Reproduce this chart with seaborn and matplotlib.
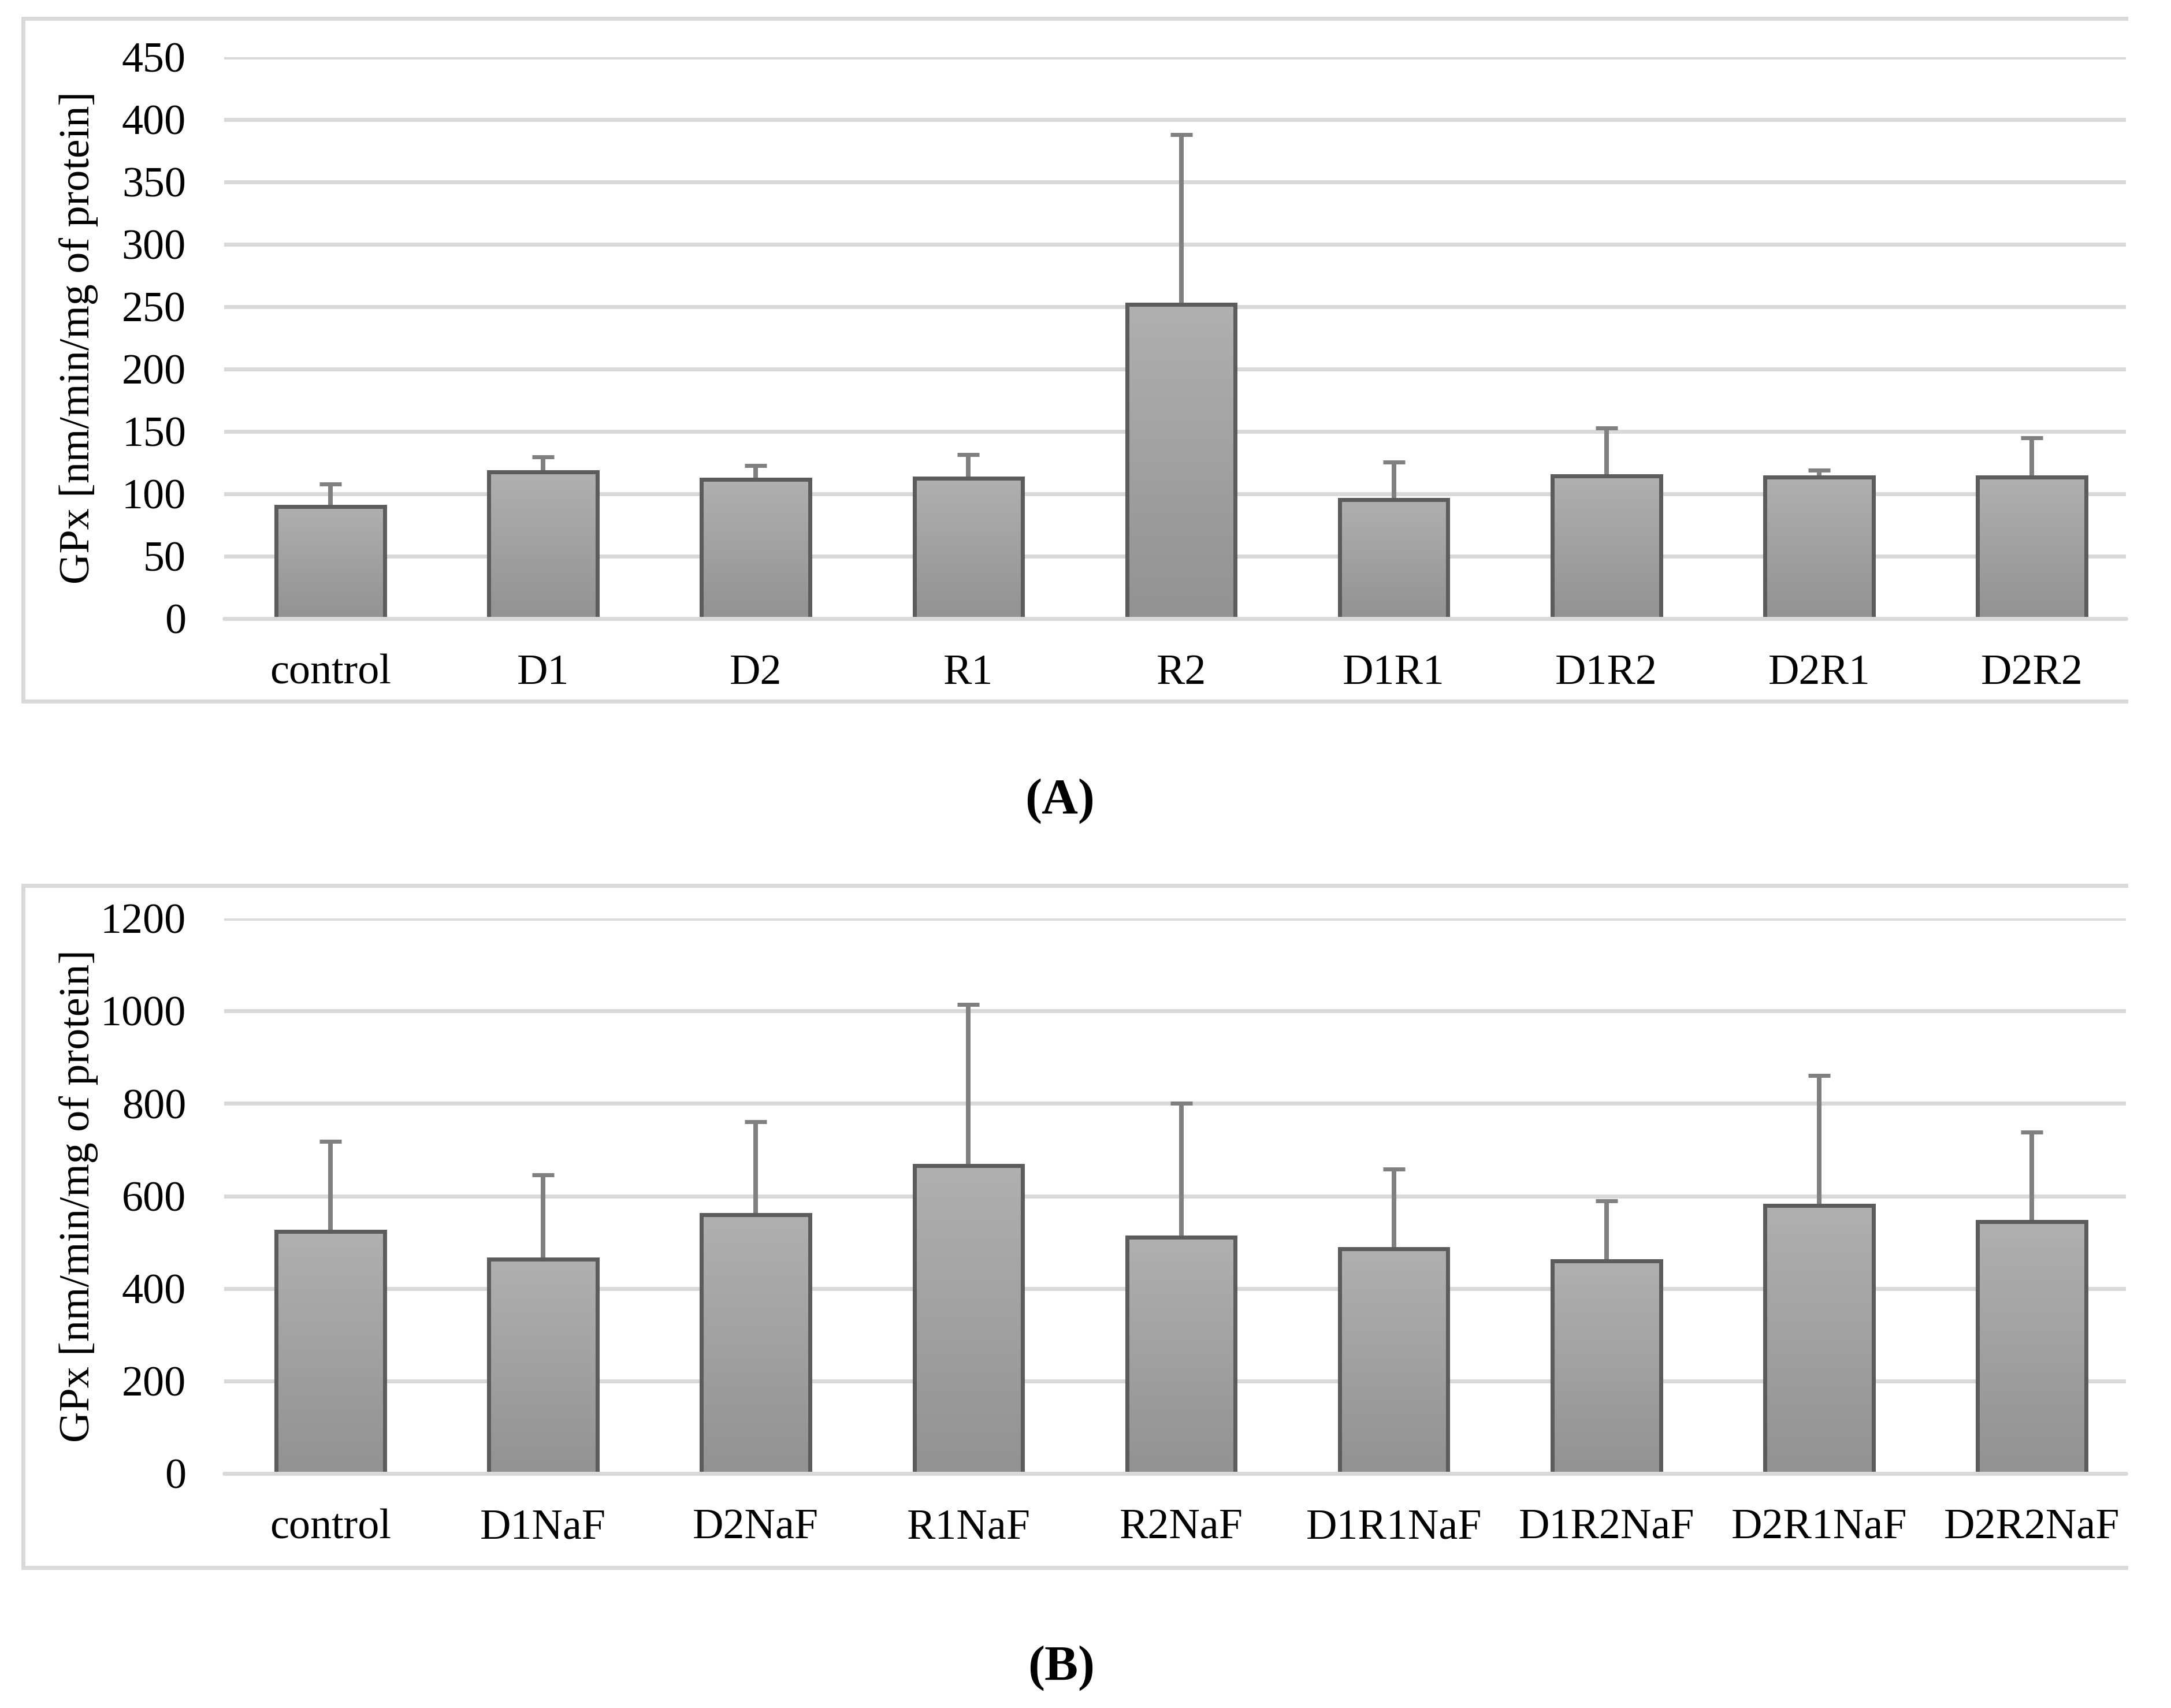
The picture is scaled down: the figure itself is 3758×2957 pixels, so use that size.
import numpy as np
import matplotlib
matplotlib.use("Agg")
import matplotlib.pyplot as plt
import seaborn as sns
from matplotlib.colors import LinearSegmentedColormap
from matplotlib.lines import Line2D

# ---------------- data ----------------
groups_a = ["control", "D1", "D2", "R1", "R2", "D1R1", "D1R2", "D2R1", "D2R2"]
mean_a = [90, 117.5, 111.5, 112.5, 252, 95.5, 114.5, 113.5, 113.5]
sd_a = [18, 12, 11, 19, 136, 30, 38.5, 5.5, 31.5]

groups_b = ["control", "D1NaF", "D2NaF", "R1NaF", "R2NaF",
            "D1R1NaF", "D1R2NaF", "D2R1NaF", "D2R2NaF"]
mean_b = [523, 463, 559, 665, 511, 486, 460, 579, 544]
sd_b = [195, 182, 202, 349, 289, 172, 129, 281, 194]

yticks_a = list(range(0, 451, 50))
yticks_b = list(range(0, 1201, 200))
ylabel_text = "GPx [nm/min/mg of protein]"
panel_labels = ["(A)", "(B)"]

# ---------------- style ----------------
W, H, DPI = 3758, 2957, 100
PT = 72.0 / DPI  # points per pixel

sns.set_theme(style="white")
plt.rcParams["font.family"] = ["Liberation Serif", "DejaVu Serif"]

GRID = "#d9d9d9"
EDGE = "#5c5c5c"
ERR = "#808080"
grad_cmap = LinearSegmentedColormap.from_list("g", ["#929292", "#b0b0b0"])

fig = plt.figure(figsize=(W / DPI, H / DPI), dpi=DPI)
fig.patch.set_facecolor("white")


def rect(x0, y0, x1, y1):
    return [x0 / W, 1 - y1 / H, (x1 - x0) / W, (y1 - y0) / H]


AX_L, AX_R = 388, 3680
XMAX = 8.5 - 21 / 368.0
TICK_FS = 74 * PT


def draw_panel(box, groups, means, sds, yticks):
    ax = fig.add_axes(rect(AX_L, box[0], AX_R, box[1]))
    sns.barplot(x=groups, y=means, ax=ax, color="#a4a4a4", width=0.51,
                edgecolor=EDGE, linewidth=7 * PT, saturation=1, errorbar=None)
    xs = ax.get_xticks()
    ax.errorbar(xs, means, yerr=[np.zeros(len(sds)), sds], fmt="none",
                ecolor=ERR, elinewidth=8 * PT, capsize=19 * PT,
                capthick=7 * PT, zorder=2.5)
    grad = np.linspace(0, 1, 256).reshape(-1, 1)
    for p in ax.patches:
        x0, y0 = p.get_x(), p.get_y()
        w, h = p.get_width(), p.get_height()
        im = ax.imshow(grad, extent=[x0, x0 + w, y0, y0 + h], origin="lower",
                       aspect="auto", cmap=grad_cmap, zorder=2)
        im.set_clip_path(p)
        p.set_facecolor("none")
        p.set_zorder(3)
    ax.set_xlim(-0.5, XMAX)
    ax.set_ylim(yticks[0], yticks[-1])
    ax.set_yticks(yticks)
    ax.set_yticklabels([str(t) for t in yticks])
    ax.yaxis.grid(True, color=GRID, linewidth=7 * PT)
    ax.xaxis.grid(False)
    ax.set_axisbelow(True)
    # baseline gridline drawn over the bar bottoms, as in the original
    ax.axhline(yticks[0], color=GRID, linewidth=7 * PT, zorder=4, clip_on=False)
    for s in ax.spines.values():
        s.set_visible(False)
    ax.tick_params(axis="y", length=0, pad=66 * PT, labelsize=TICK_FS,
                   labelcolor="black")
    ax.tick_params(axis="x", length=0, pad=61 * PT, labelsize=TICK_FS,
                   labelcolor="black")
    ax.set_ylabel(ylabel_text, fontsize=TICK_FS, color="black")
    ax.yaxis.set_label_coords((170 - AX_L) / (AX_R - AX_L), 0.5)
    ax.set_xlabel("")
    ax.set_facecolor("none")
    return ax


def frame(y0, y1):
    x0, x1 = 40, 3680
    lw = 7 * PT
    for xs, ys in [((x0, x0), (y0, y1)), ((x0, x1), (y0, y0)), ((x0, x1), (y1, y1))]:
        fig.add_artist(Line2D([x / W for x in xs], [1 - y / H for y in ys],
                              transform=fig.transFigure, color=GRID,
                              linewidth=lw, solid_capstyle="projecting"))


frame(32, 1214)
frame(1533, 2714)

draw_panel((99, 1071), groups_a, mean_a, sd_a, yticks_a)
draw_panel((1590, 2551), groups_b, mean_b, sd_b, yticks_b)

fig.text(1835 / W, 1 - 1407 / H, panel_labels[0], ha="center", va="baseline",
         fontsize=87 * PT, fontweight="bold", color="black")
fig.text(1837 / W, 1 - 2908 / H, panel_labels[1], ha="center", va="baseline",
         fontsize=87 * PT, fontweight="bold", color="black")

fig.savefig("out.png", dpi=DPI, facecolor="white")
